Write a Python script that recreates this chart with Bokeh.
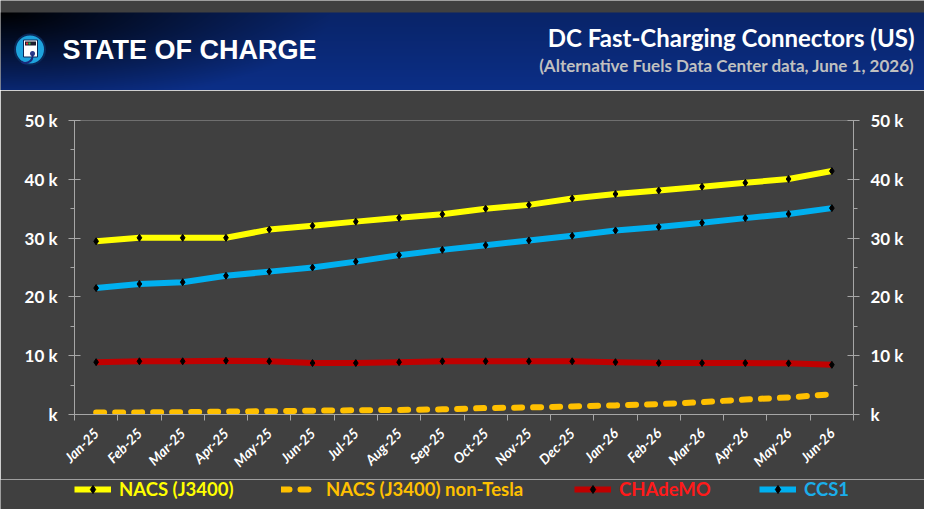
import math
import numpy as np
from bokeh.plotting import figure
from bokeh.models import (ColumnDataSource, Range1d, LinearAxis, FixedTicker,
                          Legend, LegendItem, Label)
from bokeh.embed import file_html
from bokeh.resources import INLINE

# data (connector counts)
months = ["Jan-25", "Feb-25", "Mar-25", "Apr-25", "May-25", "Jun-25", "Jul-25", "Aug-25", "Sep-25",
          "Oct-25", "Nov-25", "Dec-25", "Jan-26", "Feb-26", "Mar-26", "Apr-26", "May-26", "Jun-26"]
nacs = [29450, 30050, 30050, 30050, 31450, 32100, 32800, 33450, 34050,
        35000, 35650, 36750, 37500, 38100, 38750, 39400, 40050, 41400]
nacs_non_tesla = [350, 360, 400, 500, 550, 650, 720, 780, 880,
                  1100, 1200, 1380, 1550, 1770, 2100, 2550, 2900, 3450]
chademo = [8900, 9050, 9050, 9150, 9050, 8750, 8750, 8900, 9050,
           9050, 9050, 9050, 8900, 8750, 8750, 8750, 8700, 8450]
ccs1 = [21500, 22200, 22500, 23600, 24300, 25000, 26000, 27100, 28000,
        28800, 29600, 30400, 31300, 31900, 32600, 33400, 34100, 35100]

y_ticks = [0, 10000, 20000, 30000, 40000, 50000]
y_tick_labels = ["k", "10 k", "20 k", "30 k", "40 k", "50 k"]
y_minor = [5000, 15000, 25000, 35000, 45000]

title = "DC Fast-Charging Connectors (US)"
subtitle = "(Alternative Fuels Data Center data, June 1, 2026)"
brand = "STATE OF CHARGE"

BG = "#404040"
AXIS = "#a6a6a6"
W = 924
LEFT, RIGHT = 74, 71


def bare_figure(height, **kw):
    f = figure(width=W, height=height, output_backend="svg", toolbar_location=None,
               x_axis_type=None, y_axis_type=None, **kw)
    f.grid.visible = False
    f.outline_line_color = None
    f.background_fill_color = BG
    f.border_fill_color = BG
    return f


# ---------------- header band ----------------
HB = 78
hdr = bare_figure(90, x_range=Range1d(0, W), y_range=Range1d(0, 90), min_border=0)

xx, yy = np.meshgrid(np.arange(W), np.arange(HB))
t = np.clip(np.sqrt((xx / 330.0) ** 2 + ((HB - yy) / 95.0) ** 2), 0, 1) ** 0.9
lift = 1 + 0.3 * (1 - yy / HB)
img = np.empty((HB, W), dtype=np.uint32)
view = img.view(dtype=np.uint8).reshape((HB, W, 4))
view[..., 0] = np.clip(9 * t * lift, 0, 255)
view[..., 1] = np.clip(36 * t * lift, 0, 255)
view[..., 2] = np.clip(104 * t * lift, 0, 255)
view[..., 3] = 255
hdr.image_rgba(image=[img], x=0, y=0, dw=W, dh=HB)

# logo
hdr.circle(x=[29.5], y=[41], radius=15, fill_color="#1ea3dd", line_color="#0a2a5a", line_width=2)
hdr.rect(x=[30], y=[42], width=14, height=17, fill_color="white", line_color="#0a2a5a", line_width=1)
hdr.rect(x=[30], y=[47], width=11, height=4, fill_color="#1c1c2c", line_color=None)
hdr.rect(x=[26.5], y=[47], width=2, height=2, fill_color="#e53030", line_color=None)
hdr.rect(x=[29], y=[47], width=2, height=2, fill_color="#30c040", line_color=None)
hdr.circle(x=[32], y=[37], radius=2.5, fill_color="#2a3a8a", line_color=None)
hdr.bezier(x0=[32], y0=[36], x1=[21], y1=[29], cx0=[33], cy0=[28], cx1=[24], cy1=[26],
           line_color="#1a2a7a", line_width=2)

hdr.add_layout(Label(x=62, y=41, text=brand, text_font="Liberation Sans", text_font_style="bold",
                     text_font_size="27px", text_color="white", text_baseline="middle"))
hdr.add_layout(Label(x=914, y=53, text=title, text_font="Lato", text_font_style="bold",
                     text_font_size="24px", text_color="white", text_align="right",
                     text_baseline="middle"))
hdr.add_layout(Label(x=914, y=25, text=subtitle, text_font="Lato", text_font_style="bold",
                     text_font_size="17px", text_color="#c0c0c0", text_align="right",
                     text_baseline="middle"))

# ---------------- main chart ----------------
p = bare_figure(389, x_range=Range1d(-0.5, len(months) - 0.5), y_range=Range1d(0, 50000),
                min_border_left=LEFT, min_border_right=RIGHT, min_border_top=30, min_border_bottom=65)

xs = list(range(len(months)))
src = ColumnDataSource(dict(x=xs, nacs=nacs, nt=nacs_non_tesla, chademo=chademo, ccs1=ccs1))

styles = {
    "nacs": dict(line_color="#ffff00", line_width=6, line_join="round"),
    "nt": dict(line_color="#ffc000", line_width=6, line_dash="8 11", line_cap="round", line_join="round"),
    "chademo": dict(line_color="#c00000", line_width=6, line_join="round"),
    "ccs1": dict(line_color="#00b0f0", line_width=6, line_join="round"),
}
for col in ["nacs", "nt", "chademo", "ccs1"]:
    p.line("x", col, source=src, **styles[col])
    if col != "nt":
        p.scatter("x", col, source=src, marker="diamond", size=7, color="black")

# axes
xaxis = LinearAxis(ticker=FixedTicker(ticks=xs, minor_ticks=[i - 0.5 for i in range(len(months) + 1)]))
xaxis.major_label_overrides = {i: m for i, m in enumerate(months)}
xaxis.major_label_orientation = math.pi / 4
xaxis.major_tick_line_color = None
xaxis.major_tick_out = 0
xaxis.major_tick_in = 0
xaxis.minor_tick_line_color = AXIS
xaxis.minor_tick_out = 6
xaxis.minor_tick_in = 0
xaxis.axis_line_color = AXIS
xaxis.major_label_standoff = 10
xaxis.major_label_text_color = "white"
xaxis.major_label_text_font = "Lato"
xaxis.major_label_text_font_style = "bold italic"
xaxis.major_label_text_font_size = "14px"
p.add_layout(xaxis, "below")

for side in ("left", "right"):
    ax = LinearAxis(ticker=FixedTicker(ticks=y_ticks, minor_ticks=y_minor))
    ax.major_label_overrides = dict(zip(y_ticks, y_tick_labels))
    ax.axis_line_color = AXIS
    ax.major_tick_line_color = AXIS
    ax.minor_tick_line_color = AXIS
    ax.major_tick_in = 6
    ax.major_tick_out = 6
    ax.minor_tick_in = 0
    ax.minor_tick_out = 4
    ax.major_label_standoff = 11
    ax.major_label_text_color = "white"
    ax.major_label_text_font = "Lato"
    ax.major_label_text_font_style = "bold"
    ax.major_label_text_font_size = "17px"
    p.add_layout(ax, side)

# ---------------- legend strip ----------------
# one legend box per entry so each label gets its series colour
leg_fig = bare_figure(30, x_range=Range1d(0, W), y_range=Range1d(0, 30), min_border=0)
nothing = ColumnDataSource(dict(x=np.array([np.nan]), y=np.array([np.nan])))
legend_entries = [
    ("NACS (J3400)", "nacs", "#ffff00", LEFT),
    ("NACS (J3400) non-Tesla", "nt", "#ffc000", LEFT + 207),
    ("CHAdeMO", "chademo", "#ff1a1a", LEFT + 500),
    ("CCS1", "ccs1", "#1aaeea", LEFT + 685),
]
for label, col, text_col, lx in legend_entries:
    rends = [leg_fig.line("x", "y", source=nothing, **styles[col])]
    if col != "nt":
        rends.append(leg_fig.scatter("x", "y", source=nothing, marker="diamond", size=7, color="black"))
    leg = Legend(items=[LegendItem(label=label, renderers=rends)], location=(lx, 9),
                 orientation="horizontal", label_text_color=text_col, label_text_font="Lato",
                 label_text_font_style="bold", label_text_font_size="18.5px",
                 glyph_width=37, glyph_height=20, label_height=20, label_standoff=8,
                 padding=0, margin=0, spacing=0, border_line_color=None,
                 background_fill_alpha=0)
    leg_fig.add_layout(leg)

open("out.html", "w").write(file_html([hdr, p, leg_fig], INLINE))
